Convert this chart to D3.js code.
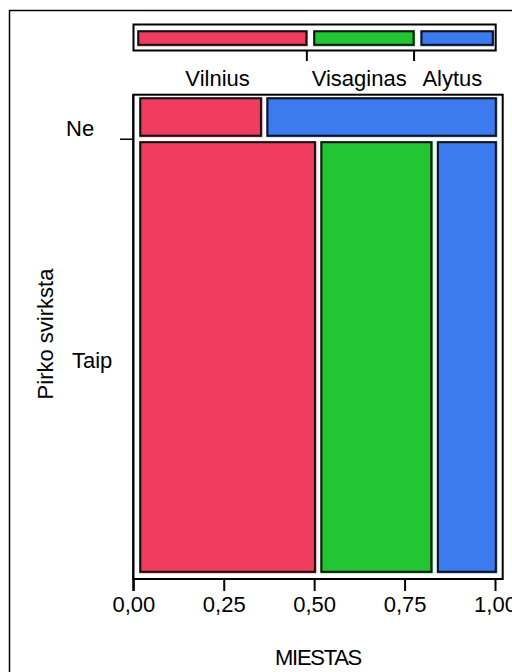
<!DOCTYPE html>
<html>
<head>
<meta charset="utf-8">
<script src="https://cdn.jsdelivr.net/npm/d3@7"></script>
<style>
  html, body { margin: 0; padding: 0; background: #fff; }
  svg { display: block; }
  text { font-family: "Liberation Sans", Arial, Helvetica, sans-serif; fill: #000; }
</style>
</head>
<body>
<svg id="chart" width="512" height="672"></svg>
<script>
// ---- data ----
const categories = ["Vilnius", "Visaginas", "Alytus"];
const rowLabels = ["Ne", "Taip"];
const neCounts = [8, 0, 15];
const taipCounts = [126, 80, 43];
const xTickValues = [0, 0.25, 0.5, 0.75, 1];
const xTickLabels = ["0,00", "0,25", "0,50", "0,75", "1,00"];
const colors = ["#F03C5F", "#22C532", "#3B7BEF"];

const rowsData = [neCounts, taipCounts];
const total = d3.sum(rowsData, r => d3.sum(r));
const marginal = categories.map((c, i) => d3.sum(rowsData, r => r[i]));

const svg = d3.select("#chart");

// outer figure border
svg.append("rect").attr("x", 9.5).attr("y", 10.5).attr("width", 600).attr("height", 700)
  .attr("fill", "none").attr("stroke", "#000").attr("stroke-width", 1.5);

// ---- geometry ----
const frame = { x0: 133.3, y0: 94.7, x1: 502.7, y1: 579 };
const tileArea = { x0: 139.3, x1: 497.3, y0: 97.3, y1: 573.3 };
const gap = 4;

// x axis scale
const x = d3.scaleLinear().domain([0, 1]).range([133.3, 495]);

// y tile scale (row heights proportional to row totals)
const rowTotals = rowsData.map(r => d3.sum(r));
const yTile = d3.scaleLinear().domain([0, 1])
  .range([0, (tileArea.y1 - tileArea.y0) - gap * (rowsData.length - 1)]);

const tiles = [];
const rowGeom = [];
let cumRow = 0;
rowsData.forEach((row, ri) => {
  const y0 = tileArea.y0 + yTile(cumRow / total) + ri * gap;
  const h = yTile(rowTotals[ri] / total);
  rowGeom.push({ y0, h });
  const nz = row.filter(v => v > 0).length;
  const xTile = d3.scaleLinear().domain([0, 1])
    .range([0, (tileArea.x1 - tileArea.x0) - gap * (nz - 1)]);
  let cum = 0, k = 0;
  row.forEach((v, ci) => {
    if (v <= 0) return;
    tiles.push({
      x: tileArea.x0 + xTile(cum / rowTotals[ri]) + k * gap,
      w: xTile(v / rowTotals[ri]),
      y: y0, h: h, c: colors[ci]
    });
    cum += v; k++;
  });
  cumRow += rowTotals[ri];
});

// main frame
svg.append("rect")
  .attr("x", frame.x0).attr("y", frame.y0)
  .attr("width", frame.x1 - frame.x0).attr("height", frame.y1 - frame.y0)
  .attr("fill", "none").attr("stroke", "#000").attr("stroke-width", 2);

// tiles
const tg = svg.append("g");
tg.selectAll("rect.fill").data(tiles).join("rect").attr("class", "fill")
  .attr("x", d => d.x).attr("y", d => d.y).attr("width", d => d.w).attr("height", d => d.h)
  .attr("fill", d => d.c);
tg.selectAll("rect.edge").data(tiles).join("rect").attr("class", "edge")
  .attr("x", d => d.x + 1).attr("y", d => d.y + 1).attr("width", d => d.w - 2.5).attr("height", d => d.h - 2.5)
  .attr("fill", "none").attr("stroke", "#111").attr("stroke-width", 2);

// left axis line and tick between rows
svg.append("line").attr("x1", frame.x0).attr("x2", frame.x0).attr("y1", frame.y0).attr("y2", 591)
  .attr("stroke", "#000").attr("stroke-width", 2);
const boundaryY = rowGeom[0].y0 + rowGeom[0].h + gap / 2;
svg.append("line").attr("x1", 120).attr("x2", frame.x0).attr("y1", boundaryY).attr("y2", boundaryY)
  .attr("stroke", "#000").attr("stroke-width", 1.5);

// row labels
const rowLabelX = [66, 72];
const rowLabelDy = [19, 11];
svg.selectAll("text.rowlab").data(rowLabels).join("text").attr("class", "rowlab")
  .attr("x", (d, i) => rowLabelX[i])
  .attr("y", (d, i) => rowGeom[i].y0 + rowGeom[i].h / 2 + rowLabelDy[i])
  .attr("font-size", 22).text(d => d);

// y axis title
svg.append("text").attr("transform", "translate(53,334) rotate(-90)")
  .attr("text-anchor", "middle").attr("font-size", 22).text("Pirko svirksta");

// x axis
const xAxis = d3.axisBottom(x).tickValues(xTickValues)
  .tickFormat((d, i) => xTickLabels[i]).tickSize(12).tickSizeOuter(0).tickPadding(5);
const gx = svg.append("g").attr("transform", `translate(0,${frame.y1})`).call(xAxis);
gx.select(".domain").remove();
gx.selectAll(".tick line").attr("stroke", "#000").attr("stroke-width", 2);
gx.selectAll(".tick text").attr("font-size", 22)
  .style("font-family", '"Liberation Sans", Arial, sans-serif').attr("fill", "#000");

svg.append("text").attr("x", 318).attr("y", 665).attr("text-anchor", "middle")
  .attr("font-size", 22).attr("letter-spacing", -1.3).text("MIESTAS");

// ---- top marginal legend ----
const lg = { x0: 133.5, x1: 495.7, y0: 24.5, y1: 50.5 };
svg.append("rect").attr("x", lg.x0).attr("y", lg.y0).attr("width", lg.x1 - lg.x0).attr("height", lg.y1 - lg.y0)
  .attr("fill", "none").attr("stroke", "#000").attr("stroke-width", 2);
const lgBar = { x0: 137.3, x1: 494.3, y0: 30.3, y1: 46.3, gap: 5.4 };
const xLeg = d3.scaleLinear().domain([0, 1])
  .range([0, (lgBar.x1 - lgBar.x0) - lgBar.gap * (categories.length - 1)]);
let cumM = 0;
const legBars = marginal.map((v, i) => {
  const b = { x: lgBar.x0 + xLeg(cumM / total) + i * lgBar.gap, w: xLeg(v / total), c: colors[i], name: categories[i] };
  cumM += v;
  return b;
});
svg.selectAll("rect.lfill").data(legBars).join("rect").attr("class", "lfill")
  .attr("x", d => d.x).attr("y", lgBar.y0).attr("width", d => d.w).attr("height", lgBar.y1 - lgBar.y0)
  .attr("fill", d => d.c);
svg.selectAll("rect.ledge").data(legBars).join("rect").attr("class", "ledge")
  .attr("x", d => d.x + 1).attr("y", lgBar.y0 + 1).attr("width", d => d.w - 2.5).attr("height", lgBar.y1 - lgBar.y0 - 2.5)
  .attr("fill", "none").attr("stroke", "#111").attr("stroke-width", 2);
svg.selectAll("line.ltick").data(legBars.slice(0, -1)).join("line").attr("class", "ltick")
  .attr("x1", d => d.x + d.w - 1).attr("x2", d => d.x + d.w - 1)
  .attr("y1", lg.y1).attr("y2", 61).attr("stroke", "#000").attr("stroke-width", 2);
svg.selectAll("text.llab").data(legBars).join("text").attr("class", "llab")
  .attr("x", d => d.x + d.w / 2 - 5).attr("y", 86).attr("text-anchor", "middle")
  .attr("font-size", 22).text(d => d.name);
</script>
</body>
</html>
